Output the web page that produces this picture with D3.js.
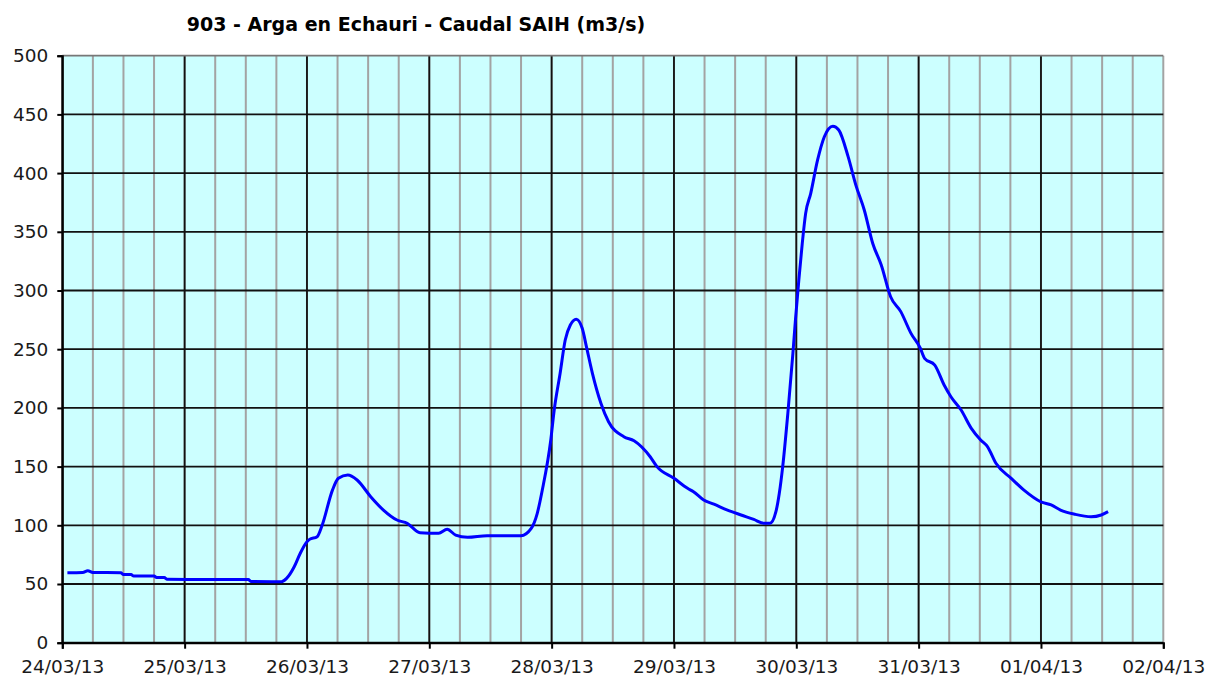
<!DOCTYPE html>
<html>
<head>
<meta charset="utf-8">
<script src="https://cdn.jsdelivr.net/npm/d3@7"></script>
<style>
  body { margin: 0; background: #fff; }
  text { font-family: "DejaVu Sans", Verdana, sans-serif; }
</style>
</head>
<body>
<div id="chart"></div>
<script>
// Chart title
const title = '903 - Arga en Echauri - Caudal SAIH (m3/s)'

// Series: time stamps (UTC) and flow in m3/s
const times = [
  '24/03/2013 01:00', '24/03/2013 04:00', '24/03/2013 05:00', '24/03/2013 06:00',
  '24/03/2013 11:30', '24/03/2013 12:00', '24/03/2013 13:30', '24/03/2013 14:00',
  '24/03/2013 18:00', '24/03/2013 18:30', '24/03/2013 20:00', '24/03/2013 20:30',
  '25/03/2013 12:30', '25/03/2013 13:00', '25/03/2013 19:00', '25/03/2013 20:00',
  '25/03/2013 21:30', '25/03/2013 22:40', '26/03/2013 00:00', '26/03/2013 00:30',
  '26/03/2013 02:00', '26/03/2013 03:00', '26/03/2013 05:00', '26/03/2013 06:10',
  '26/03/2013 08:00', '26/03/2013 09:50', '26/03/2013 12:30', '26/03/2013 15:00',
  '26/03/2013 17:40', '26/03/2013 19:40', '26/03/2013 22:10', '27/03/2013 01:50',
  '27/03/2013 03:30', '27/03/2013 05:10', '27/03/2013 07:30', '27/03/2013 11:20',
  '27/03/2013 18:00', '27/03/2013 20:00', '27/03/2013 21:10', '27/03/2013 22:10',
  '27/03/2013 23:50', '28/03/2013 00:30', '28/03/2013 01:40', '28/03/2013 02:40',
  '28/03/2013 03:40', '28/03/2013 04:50', '28/03/2013 06:00', '28/03/2013 06:50',
  '28/03/2013 08:00', '28/03/2013 09:40', '28/03/2013 11:10', '28/03/2013 14:10',
  '28/03/2013 16:10', '28/03/2013 19:20', '28/03/2013 20:40', '29/03/2013 00:00',
  '29/03/2013 02:40', '29/03/2013 03:50', '29/03/2013 05:50', '29/03/2013 07:50',
  '29/03/2013 10:30', '29/03/2013 13:10', '29/03/2013 15:40', '29/03/2013 17:40',
  '29/03/2013 18:50', '29/03/2013 20:00', '29/03/2013 20:40', '29/03/2013 21:20',
  '29/03/2013 22:20', '29/03/2013 23:20', '29/03/2013 23:50', '30/03/2013 00:30',
  '30/03/2013 01:10', '30/03/2013 01:50', '30/03/2013 02:50', '30/03/2013 04:10',
  '30/03/2013 05:30', '30/03/2013 07:10', '30/03/2013 08:20', '30/03/2013 10:10',
  '30/03/2013 11:40', '30/03/2013 13:20', '30/03/2013 15:00', '30/03/2013 16:40',
  '30/03/2013 18:30', '30/03/2013 20:30', '30/03/2013 22:30', '31/03/2013 00:20',
  '31/03/2013 01:10', '31/03/2013 03:10', '31/03/2013 05:00', '31/03/2013 06:20',
  '31/03/2013 08:20', '31/03/2013 10:20', '31/03/2013 12:10', '31/03/2013 13:30',
  '31/03/2013 15:10', '31/03/2013 18:10', '31/03/2013 20:40', '01/04/2013 00:00',
  '01/04/2013 02:00', '01/04/2013 03:50', '01/04/2013 06:40', '01/04/2013 09:50',
  '01/04/2013 11:50', '01/04/2013 13:10'
]
const flows = [
  59.6, 59.8, 61.3, 59.8,
  59.6, 58, 58, 56.8,
  56.8, 55.6, 55.6, 54,
  53.8, 52.2, 52, 54.8,
  64.7, 76, 86, 88,
  90.3, 100.3, 130, 140,
  142.8, 138.6, 124.4, 113,
  104.5, 101.7, 93.7, 93.2,
  96.6, 91.7, 89.8, 91.2,
  91.2, 97.4, 110, 130,
  172.7, 198, 229.5, 257.8,
  270.6, 275.5, 267.8, 252,
  229.5, 204, 188.2, 175.5,
  172, 158.4, 150, 140,
  131.5, 128.6, 121.5, 118,
  113, 108.8, 105, 101.7,
  101.7, 111.6, 127.3, 150,
  195, 246.5, 274.9, 309,
  340, 365.7, 382.8, 411,
  431, 440, 436.7, 414,
  390, 368.6, 340, 321.7,
  294.7, 282, 263.5, 250.8,
  242.2, 236.5, 219.5, 209.5,
  198.2, 182.6, 172.7, 167,
  152.8, 140, 130, 120,
  117.3, 113, 109.4, 107.3,
  108.8, 111.6
]

// Axis settings
const xStart = '24/03/2013 00:00'
const xEnd = '02/04/2013 00:00'
const yTicks = [0, 50, 100, 150, 200, 250, 300, 350, 400, 450, 500]

// Canvas
const width = 1209,
  height = 677
const margin = { top: 55.7, right: 45.7, bottom: 34.3, left: 62.3 }
const innerW = width - margin.left - margin.right
const innerH = height - margin.top - margin.bottom

const parse = d3.utcParse('%d/%m/%Y %H:%M')
const data = times.map((t, i) => ({ date: parse(t), value: flows[i] }))

const svg = d3.select('#chart')
  .append('svg')
  .attr('width', width)
  .attr('height', height)

const x = d3.scaleUtc()
  .domain([parse(xStart), parse(xEnd)])
  .range([0, innerW])

const y = d3.scaleLinear()
  .domain([0, 500])
  .range([innerH, 0])

const g = svg.append('g')
  .attr('transform', `translate(${margin.left},${margin.top})`)

// plot background
g.append('rect')
  .attr('width', innerW)
  .attr('height', innerH)
  .attr('fill', '#ccffff')

// minor vertical grid every 6 hours
g.append('g')
  .selectAll('line')
  .data(x.ticks(d3.utcHour.every(6)))
  .join('line')
  .attr('x1', d => x(d)).attr('x2', d => x(d))
  .attr('y1', 0).attr('y2', innerH)
  .attr('stroke', '#a3a3a3')
  .attr('stroke-width', 2)

// major vertical grid at each day (last one stays grey like the border)
const days = x.ticks(d3.utcDay.every(1))
g.append('g')
  .selectAll('line')
  .data(days.filter(d => +d < +x.domain()[1]))
  .join('line')
  .attr('x1', d => x(d)).attr('x2', d => x(d))
  .attr('y1', 0).attr('y2', innerH)
  .attr('stroke', '#111')
  .attr('stroke-width', 1.8)

// horizontal grid
g.append('g')
  .selectAll('line')
  .data(yTicks)
  .join('line')
  .attr('x1', 0).attr('x2', innerW)
  .attr('y1', d => y(d)).attr('y2', d => y(d))
  .attr('stroke', d => d === 500 ? '#777' : '#111')
  .attr('stroke-width', 1.8)

// the series
const line = d3.line()
  .curve(d3.curveMonotoneX)
  .x(d => x(d.date))
  .y(d => y(d.value))

g.append('path')
  .datum(data)
  .attr('fill', 'none')
  .attr('stroke', '#0000ff')
  .attr('stroke-width', 3)
  .attr('stroke-linejoin', 'round')
  .attr('d', line)

// axes
const xAxis = d3.axisBottom(x)
  .tickValues(days)
  .tickFormat(d3.utcFormat('%d/%m/%y'))
  .tickSize(6)
  .tickPadding(11)

const yAxis = d3.axisLeft(y)
  .tickValues(yTicks)
  .tickSize(5)
  .tickPadding(9)

const xAxisGroup = g.append('g')
  .attr('transform', `translate(0,${innerH})`)
  .call(xAxis)

const yAxisGroup = g.append('g')
  .call(yAxis)

;[xAxisGroup, yAxisGroup].forEach(ax => {
  ax.select('.domain').attr('stroke', '#000').attr('stroke-width', 2)
  ax.selectAll('.tick line').attr('stroke', '#000').attr('stroke-width', 2)
  ax.selectAll('.tick text')
    .attr('fill', '#1a1a1a')
    .style('font-size', '18.5px')
    .style('font-family', '"DejaVu Sans", Verdana, sans-serif')
})

// title
svg.append('text')
  .attr('x', 416)
  .attr('y', 31)
  .attr('text-anchor', 'middle')
  .attr('fill', '#000')
  .style('font-size', '19px')
  .style('font-weight', 'bold')
  .text(title)
</script>
</body>
</html>
